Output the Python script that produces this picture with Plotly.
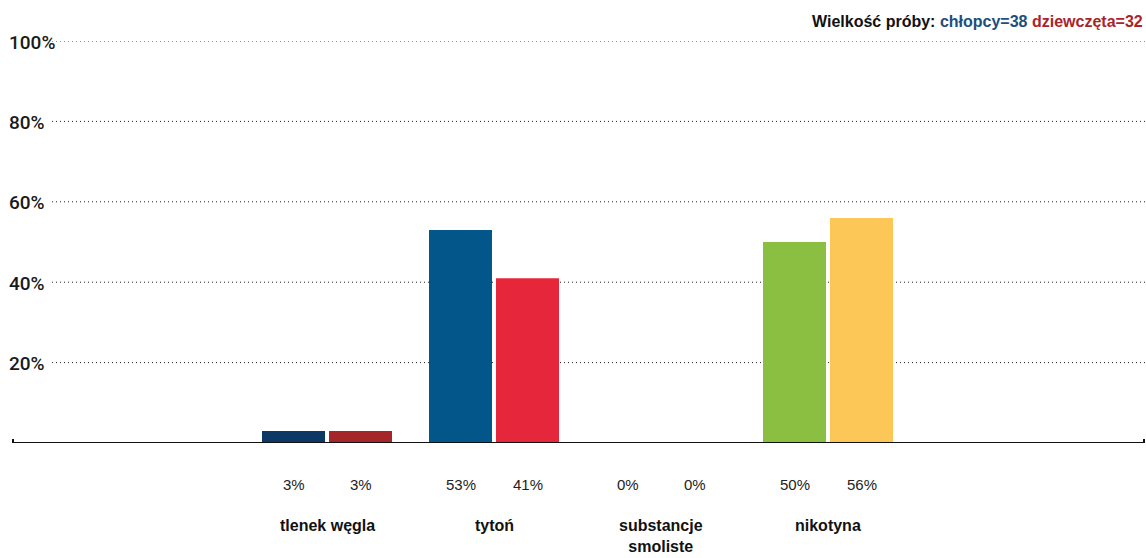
import plotly.graph_objects as go

categories = ["tlenek węgla", "tytoń", "substancje<br>smoliste", "nikotyna"]
boys = [3, 53, 0, 50]
girls = [3, 41, 0, 56]
boys_colors = ["#0d3865", "#03568a", "#03568a", "#8bbf41"]
girls_colors = ["#a52629", "#e6263a", "#e6263a", "#fdc758"]
y_ticks = [20, 40, 60, 80, 100]
sample_boys = 38
sample_girls = 32

xs = list(range(len(categories)))
W, H = 1146, 558
ml, mr, mt, mb = 12, 1, 41, 115
px_per_unit = 167.0
x0 = -(327 - ml) / px_per_unit
x1 = 3 + (W - mr - 828) / px_per_unit
bw = 63 / px_per_unit
gap = 4 / px_per_unit
pw = W - ml - mr

fig = go.Figure()
fig.add_trace(go.Bar(x=xs, y=boys, marker=dict(color=boys_colors, line=dict(width=0)),
                     width=bw, offset=-bw - gap / 2, hoverinfo="skip"))
fig.add_trace(go.Bar(x=xs, y=girls, marker=dict(color=girls_colors, line=dict(width=0)),
                     width=bw, offset=gap / 2, hoverinfo="skip"))

shapes = []
grid_start = (52 - ml) / pw
for t in y_ticks:
    shapes.append(dict(type="line", xref="paper", yref="y", x0=grid_start, x1=1, y0=t, y1=t,
                       line=dict(color="#222222", width=1, dash="1px,3px"), layer="below"))
shapes.append(dict(type="line", xref="paper", yref="y", x0=0, x1=1, y0=0, y1=0,
                   line=dict(color="#111111", width=2)))
shapes.append(dict(type="line", xref="paper", yref="y", x0=1 / pw, x1=1 / pw, y0=-1, y1=1,
                   line=dict(color="#111111", width=2)))
shapes.append(dict(type="line", xref="paper", yref="y", x0=1 - 1 / pw, x1=1 - 1 / pw, y0=-1, y1=1,
                   line=dict(color="#111111", width=2)))

tick_font = dict(family="Roboto, DejaVu Sans", size=19, color="#1a1a1a", weight=500)
annotations = []
for t in y_ticks:
    annotations.append(dict(xref="paper", yref="y", x=(7 - ml) / pw, y=t,
                            text=f"{t}%",
                            showarrow=False, xanchor="left", yanchor="middle", yshift=-1,
                            font=tick_font))
lab_font = dict(family="Liberation Sans, Arial, sans-serif", size=15, color="#222222")
cat_font = dict(family="Liberation Sans, Arial, sans-serif", size=16, color="#111111")
for i, c in enumerate(categories):
    bx = i - bw / 2 - gap / 2
    gx = i + bw / 2 + gap / 2
    annotations.append(dict(x=bx, y=0, xref="x", yref="y", text=f"{boys[i]}%", showarrow=False,
                            yanchor="middle", yshift=-41, font=lab_font))
    annotations.append(dict(x=gx, y=0, xref="x", yref="y", text=f"{girls[i]}%", showarrow=False,
                            yanchor="middle", yshift=-41, font=lab_font))
    annotations.append(dict(x=i, y=0, xref="x", yref="y", text=f"<b>{c}</b>", showarrow=False,
                            yanchor="top", yshift=-72, font=cat_font))
annotations.append(dict(xref="paper", yref="paper", x=1, y=1, yshift=20, xanchor="right", yanchor="middle",
                        showarrow=False,
                        text=("<b>Wielkość próby: </b>"
                              f"<b><span style='color:#1d4f7c'>chłopcy={sample_boys}</span> "
                              f"<span style='color:#a8262b'>dziewczęta={sample_girls}</span></b>"),
                        font=dict(family="Liberation Sans, Arial, sans-serif", size=16, color="#111111")))

fig.update_layout(
    width=W, height=H,
    margin=dict(l=ml, r=mr, t=mt, b=mb),
    paper_bgcolor="white", plot_bgcolor="white",
    showlegend=False, barmode="overlay",
    xaxis=dict(range=[x0, x1], showgrid=False, zeroline=False, showticklabels=False, ticks="",
               fixedrange=True),
    yaxis=dict(range=[0, 100], showgrid=False, zeroline=False, showticklabels=False, ticks="",
               fixedrange=True),
    shapes=shapes, annotations=annotations,
)
fig.write_html("out.html", config=dict(displayModeBar=False),
               post_script="document.body.style.margin='0';document.body.style.overflow='hidden';")
